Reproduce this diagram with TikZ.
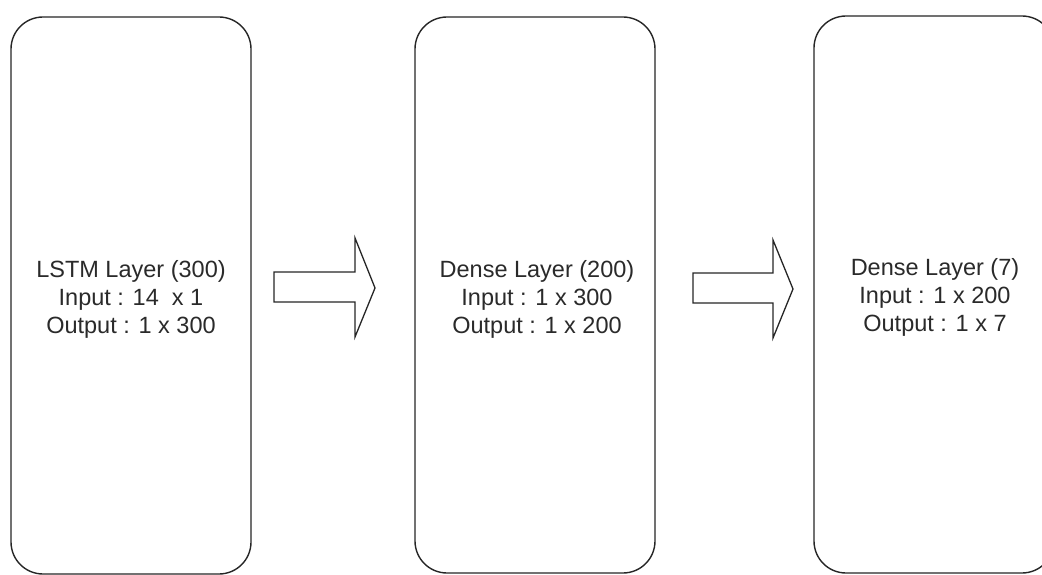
\documentclass[tikz,border=0pt]{standalone}
\usepackage{fontspec}
\setmainfont{Liberation Sans}
\definecolor{linecol}{HTML}{262626}
\definecolor{textcol}{HTML}{2a2a2a}
\begin{document}
\begin{tikzpicture}[x=1pt,y=-1pt,
  layerbox/.style={draw=linecol,line width=1.4pt,rounded corners=32pt,fill=white},
  blockarrow/.style={draw=linecol,line width=1.3pt,fill=white,line join=miter},
  lbl/.style={align=center,text=textcol,font=\fontsize{23.5}{28}\selectfont,inner sep=0pt}]
\useasboundingbox (0,0) rectangle (1042,575);
\clip (0,0) rectangle (1042,575);
% boxes
\draw[layerbox] (11,17) rectangle (251,574);
\draw[layerbox] (415,17) rectangle (655,573);
\draw[layerbox] (814,16) rectangle (1054,573);
% labels
\node[lbl] (l1) at (131,299) {LSTM Layer (300)\\Input : 14\ \ x 1\\Output : 1 x 300};
\node[lbl] (l2) at (537,299) {Dense Layer (200)\\Input : 1 x 300\\Output : 1 x 200};
\node[lbl] (l3) at (935,297) {Dense Layer (7)\\Input : 1 x 200\\Output : 1 x 7};
% block arrows
\draw[blockarrow] (274,272) -- (355,272) -- (355,238) -- (375,288) -- (355,337) -- (355,302) -- (274,302) -- cycle;
\draw[blockarrow] (693,273) -- (773,273) -- (773,240) -- (793,289) -- (773,338) -- (773,303) -- (693,303) -- cycle;
\end{tikzpicture}
\end{document}
